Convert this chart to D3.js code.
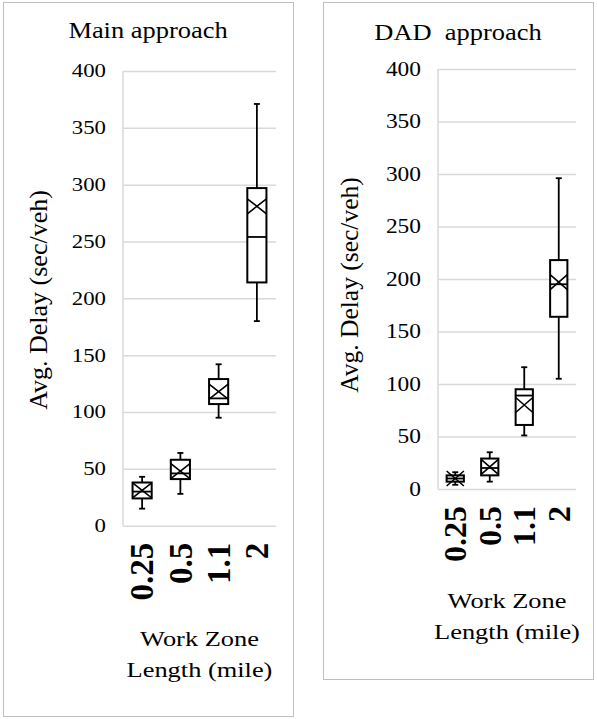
<!DOCTYPE html>
<html>
<head>
<meta charset="utf-8">
<script src="https://cdn.jsdelivr.net/npm/d3@7"></script>
<style>
  html, body { margin: 0; padding: 0; background: #fff; }
  svg { display: block; }
</style>
</head>
<body>
<svg id="chart" width="597" height="719"></svg>
<script>
const FONT = "'Liberation Serif', Tinos, 'Times New Roman', Times, 'DejaVu Serif', 'Noto Serif', serif";

// Work zone lengths (mile) shared by both panels
const categories = ["0.25", "0.5", "1.1", "2"];
const yTicks = [0, 50, 100, 150, 200, 250, 300, 350, 400];

// Main approach: average delay (sec/veh)
const mainLow    = [15, 28, 95, 180];
const mainQ1     = [24, 41, 107, 214];
const mainMedian = [30, 46, 112, 254];
const mainQ3     = [38, 58, 129, 297];
const mainHigh   = [43, 64, 142, 371];
const mainMean   = [31, 48, 118, 281];

// DAD approach: average delay (sec/veh)
const dadLow    = [4, 7, 51, 105];
const dadQ1     = [7, 13, 61, 164];
const dadMedian = [10, 20, 89, 195];
const dadQ3     = [13, 29, 95, 218];
const dadHigh   = [16, 35, 116, 296];
const dadMean   = [10, 21, 80, 197];

function buildStats(low, q1, med, q3, high, mean) {
  return categories.map((c, i) => ({
    cat: c, low: low[i], q1: q1[i], median: med[i], q3: q3[i], high: high[i], mean: mean[i]
  }));
}

const svg = d3.select("#chart").attr("font-family", FONT);

// Horizontal text in this figure is slightly widened
function hText(g, x, y, str, size, sx, anchor) {
  return g.append("text")
    .attr("transform", `translate(${x},${y}) scale(${sx},1)`)
    .attr("text-anchor", anchor)
    .attr("font-family", FONT)
    .attr("font-size", size)
    .attr("fill", "#000")
    .text(str);
}

function drawPanel(cfg, stats) {
  const g = svg.append("g");

  // panel frame
  g.append("rect")
    .attr("x", cfg.frame[0] + 0.5).attr("y", cfg.frame[1] + 0.5)
    .attr("width", cfg.frame[2] - cfg.frame[0]).attr("height", cfg.frame[3] - cfg.frame[1])
    .attr("fill", "#fff").attr("stroke", "#bfbfbf").attr("stroke-width", 1);

  const x = d3.scaleBand().domain(categories).range([cfg.left, cfg.right]).padding(0);
  const y = d3.scaleLinear().domain([0, 400]).range([cfg.bottom, cfg.top]);

  // gridlines
  const yAxis = d3.axisLeft(y).tickValues(yTicks).tickSize(-(cfg.right - cfg.left)).tickFormat("");
  const ga = g.append("g").attr("transform", `translate(${cfg.left},0)`).call(yAxis);
  ga.selectAll(".tick line").attr("stroke", "#d9d9d9").attr("stroke-width", 1.5);
  ga.select(".domain").remove();
  // vertical axis line
  g.append("line")
    .attr("x1", cfg.left).attr("x2", cfg.left)
    .attr("y1", y(400)).attr("y2", y(0))
    .attr("stroke", "#d9d9d9").attr("stroke-width", 1.5);

  // y tick labels
  yTicks.forEach(v => {
    hText(g, cfg.left - 17, y(v) + cfg.tickSize * 0.34, String(v), cfg.tickSize, cfg.tickSx, "end");
  });

  // x tick labels (bold, vertical)
  categories.forEach(c => {
    const cx = x(c) + x.bandwidth() / 2 + cfg.xTickSize * 0.34;
    g.append("text")
      .attr("transform", `translate(${cx},${cfg.bottom + 17}) rotate(-90)`)
      .attr("text-anchor", "end")
      .attr("font-family", FONT)
      .attr("font-size", cfg.xTickSize)
      .attr("font-weight", "bold")
      .attr("fill", "#000")
      .text(c);
  });

  // boxes
  const bw = x.bandwidth() * 0.5;
  const cap = 3;
  const boxes = g.selectAll("g.box").data(stats).join("g").attr("class", "box")
    .attr("transform", d => `translate(${x(d.cat) + x.bandwidth() / 2},0)`);

  boxes.append("line")
    .attr("x1", 0).attr("x2", 0)
    .attr("y1", d => y(d.high)).attr("y2", d => y(d.q3))
    .attr("stroke", "#000").attr("stroke-width", 1.8);
  boxes.append("line")
    .attr("x1", 0).attr("x2", 0)
    .attr("y1", d => y(d.q1)).attr("y2", d => y(d.low))
    .attr("stroke", "#000").attr("stroke-width", 1.8);
  boxes.append("line")
    .attr("x1", -cap).attr("x2", cap)
    .attr("y1", d => y(d.high)).attr("y2", d => y(d.high))
    .attr("stroke", "#000").attr("stroke-width", 1.8);
  boxes.append("line")
    .attr("x1", -cap).attr("x2", cap)
    .attr("y1", d => y(d.low)).attr("y2", d => y(d.low))
    .attr("stroke", "#000").attr("stroke-width", 1.8);
  boxes.append("rect")
    .attr("x", -bw / 2).attr("width", bw)
    .attr("y", d => y(d.q3)).attr("height", d => y(d.q1) - y(d.q3))
    .attr("fill", "#fff").attr("stroke", "#000").attr("stroke-width", 2);
  boxes.append("line")
    .attr("x1", -bw / 2).attr("x2", bw / 2)
    .attr("y1", d => y(d.median)).attr("y2", d => y(d.median))
    .attr("stroke", "#000").attr("stroke-width", 1.8);
  // mean marker (X)
  const mh = 7.5;
  boxes.append("path")
    .attr("d", d => {
      const m = y(d.mean);
      return `M${-bw / 2},${m - mh}L${bw / 2},${m + mh}M${-bw / 2},${m + mh}L${bw / 2},${m - mh}`;
    })
    .attr("fill", "none").attr("stroke", "#000").attr("stroke-width", 1.6);

  // titles
  const panelCx = (cfg.frame[0] + cfg.frame[2]) / 2;
  hText(g, panelCx, cfg.titleY, cfg.title, 23, 1.15, "middle").attr("xml:space", "preserve").style("white-space", "pre");
  const plotCx = (cfg.left + cfg.right) / 2;
  hText(g, plotCx, cfg.xTitleY, "Work Zone", 22, 1.2, "middle");
  hText(g, plotCx, cfg.xTitleY + 31, "Length (mile)", 22, 1.2, "middle");

  g.append("text")
    .attr("transform", `translate(${cfg.yTitleX},${cfg.yTitleY}) rotate(-90)`)
    .attr("text-anchor", "middle")
    .attr("font-family", FONT)
    .attr("font-size", cfg.yTitleSize)
    .attr("fill", "#000")
    .text("Avg. Delay (sec/veh)");
}

drawPanel({
  frame: [3, 2, 293, 716],
  left: 123, right: 276, top: 71, bottom: 525.7,
  title: "Main approach", titleY: 38,
  tickSize: 19, tickSx: 1.2, xTickSize: 33,
  xTitleY: 646,
  yTitleX: 47, yTitleY: 300, yTitleSize: 26
}, buildStats(mainLow, mainQ1, mainMedian, mainQ3, mainHigh, mainMean));

drawPanel({
  frame: [323, 2, 593, 679],
  left: 438, right: 576, top: 69, bottom: 489,
  title: "DAD  approach", titleY: 40,
  tickSize: 20, tickSx: 1.17, xTickSize: 32,
  xTitleY: 608,
  yTitleX: 358, yTitleY: 285, yTitleSize: 25.5
}, buildStats(dadLow, dadQ1, dadMedian, dadQ3, dadHigh, dadMean));
</script>
</body>
</html>
